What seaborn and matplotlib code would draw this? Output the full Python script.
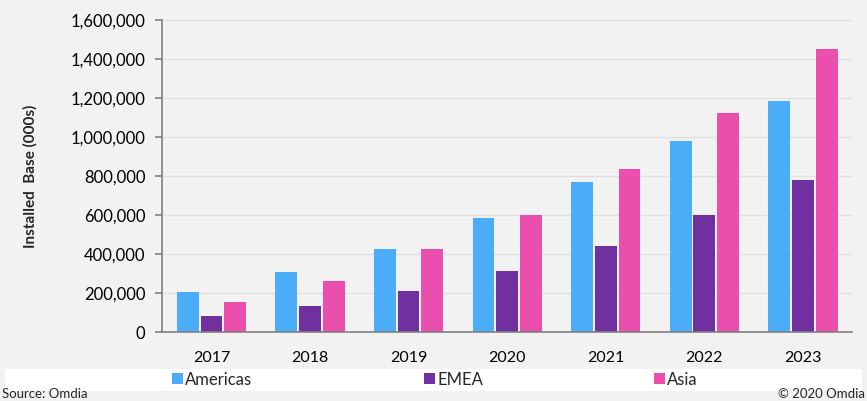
import numpy as np
import pandas as pd
import matplotlib
matplotlib.use("Agg")
import matplotlib.pyplot as plt
from matplotlib.patches import Rectangle
from matplotlib.ticker import FuncFormatter, FixedLocator
import seaborn as sns

# ---- data ----
years = ["2017", "2018", "2019", "2020", "2021", "2022", "2023"]
regions = ["Americas", "EMEA", "Asia"]
americas = [205000, 307000, 425000, 585000, 769000, 979000, 1185000]
emea = [82000, 133000, 210000, 313000, 441000, 600000, 779000]
asia = [154000, 261000, 425000, 600000, 836000, 1123000, 1453000]
colors = ["#4BADF7", "#7030A0", "#EB4FAE"]

df = pd.DataFrame({
    "Year": years * 3,
    "Region": [r for r in regions for _ in years],
    "Value": americas + emea + asia,
})

sns.set_theme(style="white")
plt.rcParams["font.family"] = ["Lato", "DejaVu Sans"]

fig = plt.figure(figsize=(8.67, 4.01), dpi=100, facecolor="#F2F2F2")
ax = fig.add_axes([0.187, 0.172, 0.796, 0.778])
ax.set_facecolor("#F2F2F2")

sns.barplot(data=df, x="Year", y="Value", hue="Region", hue_order=regions,
            palette=colors, width=0.72, gap=0.08, ax=ax, legend=True,
            edgecolor="none", saturation=1)

ax.set_ylim(0, 1600000)
ax.set_xlim(-0.5, len(years) - 0.5)
ax.set_yticks(np.arange(0, 1600001, 200000))
ax.yaxis.set_major_formatter(FuncFormatter(lambda v, p: f"{int(v):,}"))
ax.grid(axis="y", color="#E0E0E0", linewidth=1)
ax.set_axisbelow(True)

for s in ["top", "right"]:
    ax.spines[s].set_visible(False)
for s in ["left", "bottom"]:
    ax.spines[s].set_color("#808080")
    ax.spines[s].set_linewidth(1.2)

# tick marks between groups, labels at centres
ax.set_xticks(np.arange(len(years)))
ax.set_xticklabels(years)
ax.xaxis.set_minor_locator(FixedLocator(np.arange(-0.5, len(years), 1.0)))
ax.tick_params(axis="x", which="major", length=0, pad=14, labelsize=11.5, colors="#000000")
ax.tick_params(axis="x", which="minor", length=5, width=1.2, color="#808080", direction="out")
ax.tick_params(axis="y", length=5, width=1.2, color="#808080", direction="out",
               labelsize=12, labelcolor="#000000", pad=7, left=True)

ax.set_xlabel("")
ax.set_ylabel("Installed  Base (000s)", fontsize=11, fontweight="bold", labelpad=24)

# legend on white band, one entry per slot
handles, labels = ax.get_legend_handles_labels()
ax.get_legend().remove()
fig.patches.append(Rectangle((0.006, 0.025), 0.988, 0.056, transform=fig.transFigure,
                             facecolor="white", edgecolor="none", zorder=0))
legend_x = [172, 424, 654]
for h, l, xp in zip(handles, labels, legend_x):
    fig.legend([h], [l], loc="center left", bbox_to_anchor=(xp / 867, 0.053),
               frameon=False, fontsize=12, handlelength=0.65, handleheight=0.65,
               handletextpad=0.15, borderaxespad=0, borderpad=0)

fig.text(0.002, 0.003, "Source: Omdia", fontsize=9.5, ha="left", va="bottom")
fig.text(0.998, 0.003, "\u00a9 2020 Omdia", fontsize=9.5, ha="right", va="bottom")

fig.savefig("out.png", dpi=100, facecolor=fig.get_facecolor())
